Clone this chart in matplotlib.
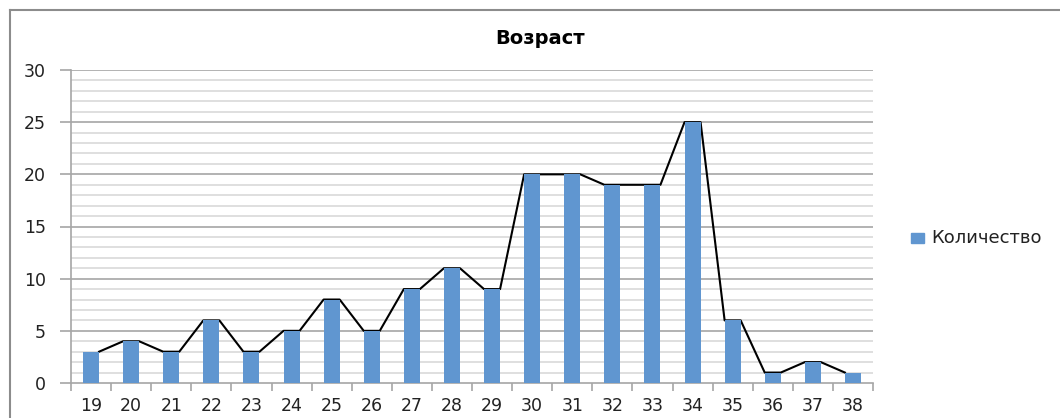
import matplotlib
matplotlib.use("Agg")
import matplotlib.pyplot as plt
from matplotlib.lines import Line2D
from matplotlib.patches import Rectangle
import numpy as np

ages = [19, 20, 21, 22, 23, 24, 25, 26, 27, 28, 29, 30, 31, 32, 33, 34, 35, 36, 37, 38]
counts = [3, 4, 3, 6, 3, 5, 8, 5, 9, 11, 9, 20, 20, 19, 19, 25, 6, 1, 2, 1]

BAR_COLOR = "#6096d0"
BAR_W = 0.4

fig = plt.figure(figsize=(10.6, 4.18), dpi=100)
ax = fig.add_axes([71 / 1060, 1 - 383 / 418, (873 - 71) / 1060, (383 - 70) / 418])

x = np.arange(len(ages))

# connecting line: right corner of one bar to left corner of next
lx, ly = [], []
for i, v in enumerate(counts):
    lx += [x[i] - BAR_W / 2, x[i] + BAR_W / 2]
    ly += [v, v]
ax.plot(lx[1:-1], ly[1:-1], color="black", linewidth=1.5, zorder=2)
ax.bar(x, counts, width=BAR_W, color=BAR_COLOR, zorder=3)

ax.set_xlim(-0.5, len(ages) - 0.5)
ax.set_ylim(0, 30)

# grid
for yv in range(1, 31):
    major = yv % 5 == 0
    ax.axhline(yv, color="#a6a6a6" if major else "#d9d9d9", linewidth=1.2, zorder=1)

ax.set_yticks(range(0, 31, 5))
ax.set_xticks(x)
ax.set_xticklabels([str(a) for a in ages])
ax.set_xticks(np.arange(-0.5, len(ages), 1), minor=True)
ax.tick_params(axis="x", which="major", length=0, pad=10, labelsize=12.5, colors="#222222")
ax.tick_params(axis="x", which="minor", length=6, color="#a6a6a6", width=1.2)
ax.tick_params(axis="y", length=8, color="#a6a6a6", width=1.2, pad=10, labelsize=12.5, labelcolor="#222222")

for s in ["top", "right"]:
    ax.spines[s].set_visible(False)
for s in ["left", "bottom"]:
    ax.spines[s].set_color("#a6a6a6")
    ax.spines[s].set_linewidth(1.2)

fig.text(540 / 1060, 1 - 38 / 418, "Возраст", ha="center", va="center",
         fontsize=14, fontweight="bold")

# legend
fig.patches.append(Rectangle((911 / 1060, 1 - 243 / 418), 13 / 1060, 10 / 418,
                             transform=fig.transFigure, color=BAR_COLOR))
fig.text(931 / 1060, 1 - 238 / 418, "Количество", ha="left", va="center",
         fontsize=13, color="#222222")

# outer frame (left and top edges visible)
fig.add_artist(Line2D([9.5 / 1060, 9.5 / 1060], [0, 1 - 9.5 / 418],
                      transform=fig.transFigure, color="#8c8c8c", linewidth=1.5))
fig.add_artist(Line2D([9.5 / 1060, 1], [1 - 9.5 / 418, 1 - 9.5 / 418],
                      transform=fig.transFigure, color="#8c8c8c", linewidth=1.5))

fig.savefig("out.png", dpi=100)
